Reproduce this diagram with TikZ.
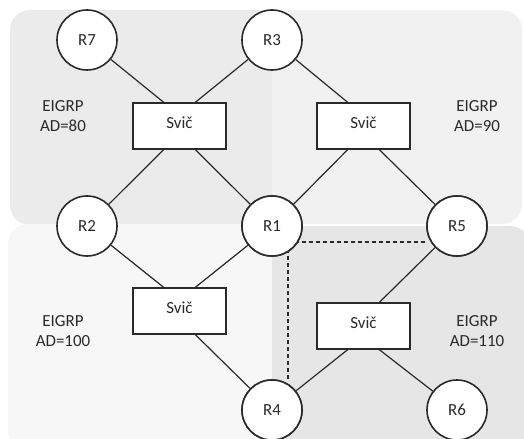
\documentclass[tikz,border=0pt]{standalone}
\usepackage{fontspec}
\setmainfont{Carlito}
\definecolor{zoneA}{HTML}{EBEBEB}
\definecolor{zoneB}{HTML}{F1F1F1}
\definecolor{zoneC}{HTML}{F7F7F7}
\definecolor{zoneD}{HTML}{E6E6E6}
\definecolor{ink}{HTML}{2A2A2A}
\begin{document}
\begin{tikzpicture}[x=1bp,y=-1bp,
  every node/.style={font=\fontsize{17}{20}\selectfont, text=ink},
  router/.style={circle, draw=ink, line width=1.6bp, fill=white, minimum size=60bp, inner sep=0pt},
  switchbox/.style={rectangle, draw=ink, line width=1.6bp, fill=white, minimum width=93bp, minimum height=46bp, inner sep=0pt},
  link/.style={draw=ink, line width=1.2bp},
  backup/.style={draw=ink, line width=1.2bp, dash pattern=on 4bp off 3bp},
  zone/.style={rounded corners=20bp},
  area/.style={align=center}]
  \useasboundingbox (0,0) rectangle (524,439);
  % routing domains
  \fill[zoneA, zone] (10,10) rectangle (276,225);
  \fill[zoneB, zone] (272,10) rectangle (522,224);
  \fill[zoneC, zone] (8,224) rectangle (276,450);
  \fill[zoneD, zone] (272,226) rectangle (530,450);

  % routers
  \node[router] (R7) at (87,40) {R7};
  \node[router] (R3) at (272,40) {R3};
  \node[router] (R2) at (87,226) {R2};
  \node[router] (R1) at (272,226) {R1};
  \node[router] (R5) at (457,226) {R5};
  \node[router] (R4) at (272,410) {R4};
  \node[router] (R6) at (457,410) {R6};

  % switches
  \node[switchbox] (S1) at (179.5,126) {};
  \node[switchbox] (S2) at (363.5,126) {};
  \node[switchbox] (S3) at (179.5,311) {};
  \node[switchbox] (S4) at (363.5,326) {};
  \foreach \s in {S1,S2,S3,S4}
    \node at ([yshift=3bp]\s.center) {Svič};

  % links
  \draw[link] (R7) -- ([xshift=-16bp]S1.north);
  \draw[link] (R3) -- ([xshift=16bp]S1.north);
  \draw[link] (R3) -- ([xshift=-16bp]S2.north);
  \draw[link] ([xshift=-16bp]S1.south) -- (R2);
  \draw[link] ([xshift=16bp]S1.south) -- (R1);
  \draw[link] ([xshift=-16bp]S2.south) -- (R1);
  \draw[link] ([xshift=16bp]S2.south) -- (R5);
  \draw[link] (R2) -- ([xshift=-16bp]S3.north);
  \draw[link] (R1) -- ([xshift=16bp]S3.north);
  \draw[link] ([xshift=16bp]S3.south) -- (R4);
  \draw[link] (R5) -- ([xshift=16bp]S4.north);
  \draw[link] ([xshift=-16bp]S4.south) -- (R4);
  \draw[link] ([xshift=16bp]S4.south) -- (R6);

  % backup paths
  \coordinate (corner) at (288,242);
  \draw[backup] (corner) -- (corner -| R5.west);
  \draw[backup] (corner) -- (corner |- R4.north);

  % redraw routers on top of the dashed lines
  \foreach \r/\p in {R1/{(272,226)},R5/{(457,226)},R4/{(272,410)}}
    \node[router] at \p {\r};

  % domain labels
  \node[area] (L1) at (63,116) {EIGRP\\AD=80};
  \node[area] (L2) at (477,116) {EIGRP\\AD=90};
  \node[area] (L3) at (63,331) {EIGRP\\AD=100};
  \node[area] (L4) at (477,331) {EIGRP\\AD=110};
\end{tikzpicture}
\end{document}
